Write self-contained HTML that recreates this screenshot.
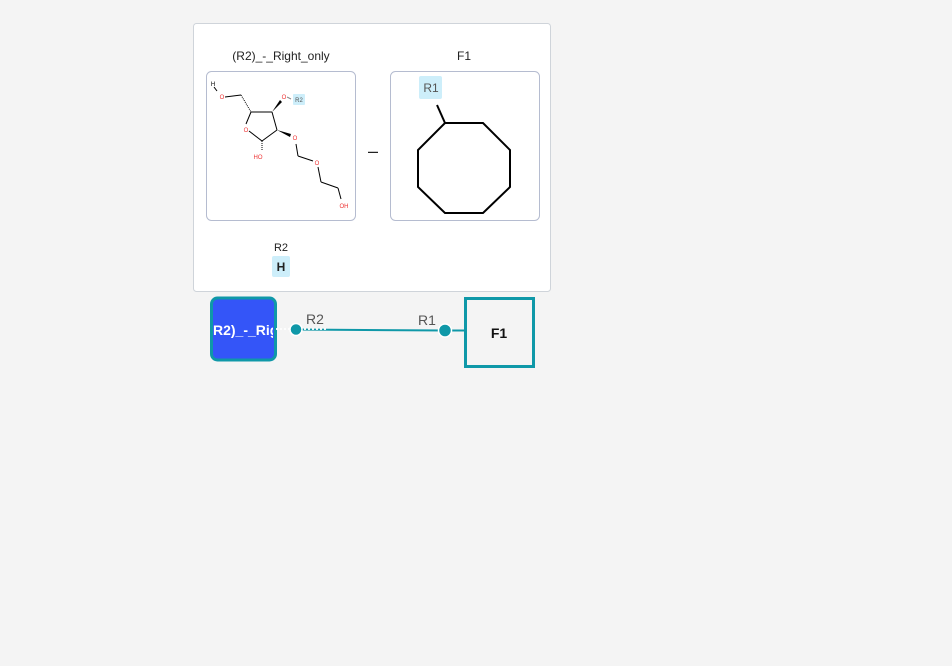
<!DOCTYPE html>
<html><head><meta charset="utf-8">
<style>
html,body{margin:0;padding:0;background:#f4f4f4;width:952px;height:666px;overflow:hidden;font-family:"Liberation Sans",sans-serif;}
</style></head>
<body>
<svg width="952" height="666" viewBox="0 0 952 666" xmlns="http://www.w3.org/2000/svg" font-family="Liberation Sans, sans-serif">
  <g>
    <rect x="193.5" y="23.5" width="357" height="268" rx="3" fill="#fff" stroke="#cfd4da"/>
    <text x="281" y="60" font-size="12" text-anchor="middle" fill="#222">(R2)_-_Right_only</text>
    <text x="464" y="60" font-size="12" text-anchor="middle" fill="#222">F1</text>
    <rect x="206.5" y="71.5" width="149" height="149" rx="5" fill="#fff" stroke="#b5bcd0"/>
    <rect x="390.5" y="71.5" width="149" height="149" rx="5" fill="#fff" stroke="#b5bcd0"/>
    <text x="373" y="157" font-size="18" text-anchor="middle" fill="#222">–</text>
    <text x="281" y="251" font-size="11" text-anchor="middle" fill="#222">R2</text>
    <rect x="272" y="256" width="18" height="21" rx="2" fill="#cdeefa"/>
    <text x="281" y="271" font-size="12" font-weight="bold" text-anchor="middle" fill="#222">H</text>

    <!-- sugar molecule -->
    <g stroke="#000" stroke-width="1" fill="none">
      <line x1="214" y1="87" x2="217" y2="91"/>
      <line x1="225" y1="97" x2="241" y2="95"/>
      <line x1="241" y1="95" x2="251" y2="112" stroke-dasharray="1,1"/>
      <line x1="251" y1="112" x2="272" y2="112"/>
      <line x1="272" y1="112" x2="277" y2="130"/>
      <line x1="277" y1="130" x2="262" y2="141"/>
      <line x1="262" y1="141" x2="249" y2="131"/>
      <line x1="246" y1="124" x2="251" y2="112"/>
      <line x1="262" y1="141" x2="262" y2="151" stroke-dasharray="1,1"/>
      <line x1="296" y1="144" x2="298" y2="156"/>
      <line x1="298" y1="156" x2="313" y2="161"/>
      <line x1="318" y1="167" x2="321" y2="182"/>
      <line x1="321" y1="182" x2="338" y2="188"/>
      <line x1="338" y1="188" x2="341" y2="199"/>
      <line x1="287" y1="97" x2="291" y2="99" stroke="#888"/>
    </g>
    <polygon points="272,112 280,100 282,102" fill="#000"/>
    <polygon points="277,130 291,134 290,137" fill="#000"/>
    <g font-size="6" fill="#e33" text-anchor="middle">
      <text x="222" y="99">O</text>
      <text x="246" y="132">O</text>
      <text x="284" y="99">O</text>
      <text x="295" y="140">O</text>
      <text x="317" y="165">O</text>
      <text x="258" y="159">HO</text>
      <text x="344" y="208">OH</text>
    </g>
    <text x="213" y="86" font-size="6" fill="#000" text-anchor="middle">H</text>
    <rect x="293" y="94" width="12" height="11" rx="1" fill="#cdeefa"/>
    <text x="299" y="102" font-size="6" fill="#555" text-anchor="middle">R2</text>

    <!-- octagon -->
    <g>
      <polygon points="445,123 483,123 510,150 510,187 483,213 445,213 418,187 418,150" fill="none" stroke="#000" stroke-width="2"/>
      <line x1="445" y1="123" x2="437" y2="105" stroke="#000" stroke-width="2"/>
      <rect x="419" y="76" width="23" height="23" rx="2" fill="#cdeefa"/>
      <text x="431" y="92" font-size="12" fill="#555" text-anchor="middle">R1</text>
    </g>
  </g>

  <!-- bottom graph -->
  <g>
    <line x1="296" y1="329.5" x2="445" y2="330.5" stroke="#0f98a8" stroke-width="2"/>
    <line x1="445" y1="330.5" x2="466" y2="330.5" stroke="#0f98a8" stroke-width="2"/>
    <rect x="211.5" y="298" width="64" height="62" rx="6" fill="#3455f8" stroke="#0f98a8" stroke-width="3"/>
    <clipPath id="nc"><rect x="213" y="299" width="60" height="60"/></clipPath>
    <text x="213" y="335" font-size="14" font-weight="bold" fill="#fff" clip-path="url(#nc)">R2)_-_Right_only</text>
    <line x1="276" y1="329" x2="326" y2="329" stroke="#fff" stroke-width="2" stroke-dasharray="2,2" opacity="0.9"/>
    <circle cx="296" cy="329.5" r="6" fill="#0f98a8" stroke="#fff" stroke-width="1.5"/>
    <circle cx="445" cy="330.5" r="6.5" fill="#0f98a8" stroke="#fff" stroke-width="1.5"/>
    <text x="315" y="324" font-size="14" fill="#555" text-anchor="middle">R2</text>
    <text x="427" y="325" font-size="14" fill="#555" text-anchor="middle">R1</text>
    <rect x="465.5" y="298.5" width="68" height="68" fill="#f4f4f4" stroke="#0f98a8" stroke-width="3"/>
    <text x="499" y="338" font-size="14" font-weight="bold" fill="#111" text-anchor="middle">F1</text>
  </g>
</svg>
</body></html>
